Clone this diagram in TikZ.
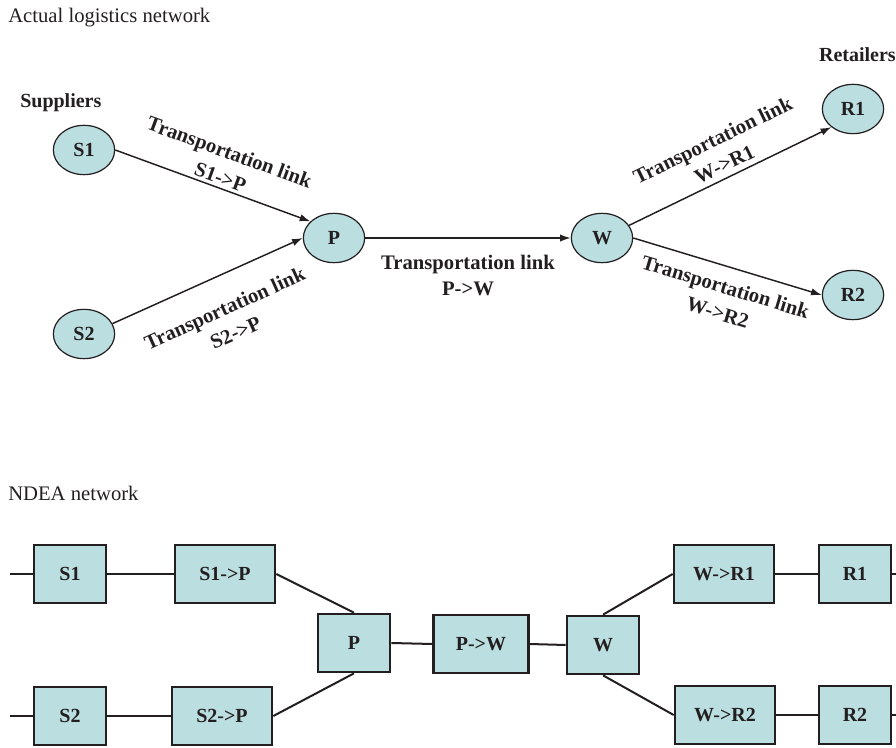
\documentclass[tikz,border=0pt]{standalone}
\usepackage{fontspec}
\setmainfont{Liberation Serif}
\usetikzlibrary{shapes.geometric,arrows.meta}

\definecolor{tealfill}{RGB}{187,222,224}
\definecolor{inkdark}{RGB}{35,31,32}

\tikzset{
  ellnode/.style={ellipse,draw=inkdark,line width=0.9pt,fill=tealfill,
    minimum width=46pt,minimum height=37pt,inner sep=0pt,
    text=inkdark,font=\bfseries\fontsize{15}{18}\selectfont},
  boxnode/.style={rectangle,draw=inkdark,line width=2pt,fill=tealfill,
    minimum width=54pt,minimum height=43.5pt,inner sep=0pt,
    text=inkdark,font=\bfseries\fontsize{15}{18}\selectfont},
  widebox/.style={boxnode,minimum width=75pt},
  arr/.style={-{Latex[length=8pt,width=5.5pt]},line width=1.1pt,draw=inkdark},
  link/.style={line width=1.5pt,draw=inkdark},
  lbl/.style={align=center,sloped,inner sep=1pt,text=inkdark,
    font=\bfseries\fontsize{15.5}{20}\selectfont},
  heading/.style={inner sep=0pt,text=inkdark,font=\fontsize{15.5}{18}\selectfont},
  group/.style={inner sep=0pt,text=inkdark,font=\bfseries\fontsize{15}{18}\selectfont}
}

\begin{document}
\begin{tikzpicture}[x=0.75pt,y=-0.75pt]
\useasboundingbox (0,0) rectangle (896,748);

% Headings
\node[heading,anchor=west] (hactual) at (8,18) {Actual logistics network};
\node[heading,anchor=west] (hndea) at (8,493) {NDEA network};
\node[group,anchor=west] (hsup) at (20,103) {Suppliers};
\node[group,anchor=east] (hret) at (896,55) {Retailers};

% Actual network nodes
\node[ellnode] (S1) at (84,150) {S1};
\node[ellnode] (S2) at (84,334) {S2};
\node[ellnode] (P) at (334,238) {P};
\node[ellnode] (W) at (602,238) {W};
\node[ellnode] (R1) at (853,109) {R1};
\node[ellnode] (R2) at (853,295) {R2};

% Transportation links
\draw[arr] (S1.east) -- node[lbl,above=1pt,pos=0.52] (lS1P) {Transportation link\\S1->P} (P.145);
\draw[arr] (S2.20) -- node[lbl,below=17pt,pos=0.52] (lS2P) {Transportation link\\S2->P} (P.west);
\draw[arr] (P) -- node[lbl,below=11pt] (lPW) {Transportation link\\P->W} (W);
\draw[arr] (W.25) -- node[lbl,above=3pt,pos=0.5] (lWR1) {Transportation link\\W->R1} (R1.220);
\draw[arr] (W.east) -- node[lbl,below=8pt,pos=0.52] (lWR2) {Transportation link\\W->R2} (R2.west);

% NDEA network nodes
\node[boxnode] (nS1) at (70,574) {S1};
\node[widebox] (nS1P) at (225,574) {S1->P};
\node[boxnode] (nS2) at (70,716) {S2};
\node[widebox] (nS2P) at (222,716) {S2->P};
\node[boxnode] (nP) at (354,643) {P};
\node[widebox,minimum width=71pt] (nPW) at (481,644) {P->W};
\node[boxnode] (nW) at (603,645) {W};
\node[widebox] (nWR1) at (724,574) {W->R1};
\node[boxnode] (nR1) at (855,574) {R1};
\node[widebox] (nWR2) at (725,715) {W->R2};
\node[boxnode] (nR2) at (855,715) {R2};

% Free ends
\coordinate (inS1) at (10,574);
\coordinate (inS2) at (10,716);
\coordinate (outR1) at (896,574);
\coordinate (outR2) at (896,715);

% NDEA links
\draw[link] (inS1) -- (nS1.west);
\draw[link] (inS2) -- (nS2.west);
\draw[link] (nS1.east) -- (nS1P.west);
\draw[link] (nS2.east) -- (nS2P.west);
\draw[link] (nS1P.east) -- (nP.north);
\draw[link] (nS2P.east) -- (nP.south);
\draw[link] (nP.east) -- (nPW.west);
\draw[link] (nPW.east) -- (nW.west);
\draw[link] (nW.north) -- (nWR1.west);
\draw[link] (nW.south) -- (nWR2.west);
\draw[link] (nWR1.east) -- (nR1.west);
\draw[link] (nWR2.east) -- (nR2.west);
\draw[link] (nR1.east) -- (outR1);
\draw[link] (nR2.east) -- (outR2);

\end{tikzpicture}
\end{document}
